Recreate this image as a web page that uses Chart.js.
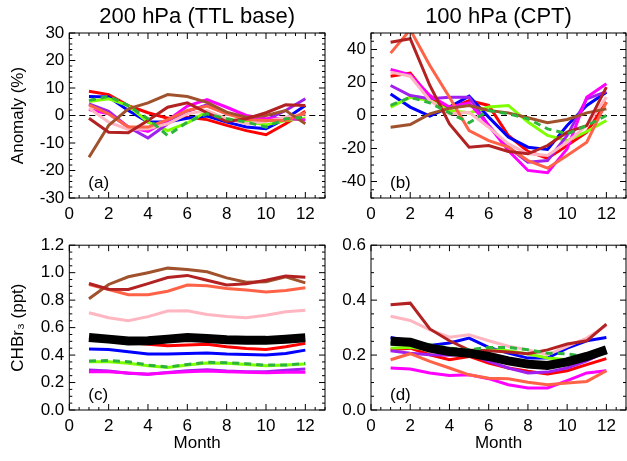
<!DOCTYPE html>
<html>
<head>
<meta charset="utf-8">
<script src="https://cdn.jsdelivr.net/npm/chart.js@4.4.0/dist/chart.umd.min.js"></script>
<style>
body { margin:0; background:#fff; }
#wrap { position:relative; width:627px; height:461px; }
canvas { position:absolute; }
</style>
</head>
<body>
<div id="wrap">
<canvas id="panelA" style="left:0;top:0" width="340" height="230"></canvas>
<canvas id="panelB" style="left:330px;top:0" width="297" height="230"></canvas>
<canvas id="panelC" style="left:0;top:230px" width="340" height="231"></canvas>
<canvas id="panelD" style="left:330px;top:230px" width="297" height="231"></canvas>
</div>
<script>
// --- donnees ---
const months = [1,2,3,4,5,6,7,8,9,10,11,12];
const xTicks = [0,2,4,6,8,10,12];
const yTicksA = [-30,-20,-10,0,10,20,30];
const yTicksB = [-40,-20,0,20,40];
const yTicksC = [0,0.2,0.4,0.6,0.8,1.0,1.2];
const yTicksD = [0,0.2,0.4,0.6];

// (a) anomalie 200 hPa (%)
const red200 = [8.8,7.6,3.6,1.0,-1.0,-0.6,-1.5,-3.6,-5.5,-7.0,-3.0,1.5];
const blue200 = [6.9,6.7,1.8,-2.4,-2.4,-1.0,-0.2,-2.4,-4.2,-4.8,-1.2,3.6];
const lime200 = [5.1,6.1,3.6,-2.4,-5.5,-2.7,1.5,-1.2,-2.4,-3.4,-1.8,-1.0];
const green200 = [5.5,7.0,3.6,-1.2,-7.3,-2.4,0.6,-1.2,-2.4,-4.2,-1.2,-0.6];
const magenta200 = [2.2,0.6,-4.2,-5.8,-1.8,3.4,5.8,3.0,0,-1.2,-1.0,-1.6];
const purple200 = [4.2,1.5,-4.2,-8.2,-3.0,1.5,3.9,0.6,-0.6,-1.6,1.8,6.1];
const pink200 = [2.7,-2.4,-5.1,-4.8,-3.0,0.6,1.8,-1.2,-3.0,-2.2,-0.6,0.6];
const tomato200 = [3.9,0.6,-4.2,-4.2,-1.5,1.8,3.4,0.6,-1.5,-1.8,-1.8,1.0];
const sienna200 = [-15.2,-3.6,2.4,4.6,7.6,6.9,4.8,1.2,-0.6,0,1.8,-3.0];
const brick200 = [-1.0,-6.1,-6.3,-1.8,3.0,4.6,1.0,-2.2,-1.2,1.0,3.9,3.6];

// (b) anomalie 100 hPa (%)
const red100 = [23.8,25.7,11.1,4.0,9.1,6.1,-12.1,-21.8,-25.9,-18.2,-10.1,8.1];
const blue100 = [13.1,5.1,-0.4,5.1,11.7,-1.0,-13.1,-19.2,-20.6,-6.1,6.1,14.1];
const lime100 = [5.1,11.1,9.1,3.0,1.6,5.1,6.1,-4.0,-12.1,-15.2,-9.7,-3.0];
const green100 = [6.1,11.1,7.7,1.6,-4.4,3.0,1.0,-2.0,-8.1,-11.1,-6.1,0];
const magenta100 = [27.9,24.6,12.1,5.1,7.7,-6.1,-21.2,-33.3,-34.7,-20.2,11.1,19.2];
const purple100 = [18.2,12.1,10.1,11.1,11.1,-6.1,-19.2,-28.3,-27.3,-12.1,10.1,14.5];
const pink100 = [26.3,23.8,9.1,1.0,2.0,-7.1,-17.2,-23.2,-24.2,-16.2,-6.1,11.1];
const tomato100 = [37.8,52,30.3,11.1,-9.1,-15.2,-19.2,-27.3,-31.9,-24.2,-16.2,8.1];
const sienna100 = [-7.1,-5.5,1.0,4.4,6.1,3.0,1.6,-1.4,-4.4,-2.4,1.6,4.0];
const brick100 = [44.4,46.5,18.2,-5.1,-19.2,-18.2,-21.8,-23.2,-18.2,-10.1,-6.1,17.2];

// (c) CHBr3 200 hPa (ppt)
const red200c = [0.528,0.51,0.492,0.478,0.468,0.473,0.478,0.46,0.448,0.44,0.46,0.485];
const blue200c = [0.444,0.441,0.424,0.407,0.407,0.412,0.415,0.407,0.405,0.4,0.412,0.436];
const lime200c = [0.352,0.352,0.34,0.322,0.31,0.327,0.342,0.34,0.332,0.322,0.327,0.335];
const green200c = [0.356,0.361,0.352,0.327,0.313,0.332,0.347,0.344,0.337,0.327,0.327,0.34];
const magenta200c = [0.279,0.279,0.269,0.26,0.271,0.279,0.284,0.279,0.274,0.271,0.274,0.274];
const purple200c = [0.291,0.284,0.267,0.26,0.274,0.286,0.293,0.284,0.279,0.279,0.289,0.298];
const pink200c = [0.708,0.672,0.65,0.68,0.72,0.722,0.696,0.68,0.672,0.69,0.715,0.727];
const tomato200c = [0.914,0.878,0.84,0.84,0.865,0.91,0.904,0.885,0.873,0.86,0.87,0.89];
const sienna200c = [0.81,0.914,0.97,1.0,1.033,1.023,1.006,0.962,0.93,0.933,0.97,0.926];
const brick200c = [0.921,0.88,0.878,0.92,0.965,0.98,0.945,0.91,0.92,0.945,0.975,0.967];
const mean200c = [0.528,0.516,0.502,0.504,0.516,0.528,0.52,0.511,0.507,0.507,0.516,0.526];

// (d) CHBr3 100 hPa (ppt)
const red100d = [0.219,0.225,0.201,0.183,0.195,0.171,0.153,0.141,0.131,0.143,0.165,0.187];
const blue100d = [0.264,0.252,0.235,0.244,0.262,0.228,0.207,0.189,0.189,0.225,0.252,0.264];
const lime100d = [0.225,0.228,0.219,0.207,0.211,0.219,0.216,0.204,0.189,0.183,0.195,0.211];
const green100d = [0.244,0.244,0.238,0.225,0.219,0.228,0.228,0.219,0.207,0.204,0.195,0.207];
const magenta100d = [0.153,0.149,0.135,0.126,0.128,0.114,0.092,0.08,0.08,0.107,0.135,0.143];
const purple100d = [0.216,0.207,0.201,0.199,0.204,0.177,0.153,0.135,0.138,0.153,0.179,0.213];
const pink100d = [0.341,0.326,0.292,0.265,0.274,0.252,0.232,0.219,0.201,0.232,0.262,0.308];
const tomato100d = [0.183,0.205,0.177,0.153,0.128,0.116,0.114,0.101,0.092,0.098,0.104,0.143];
const brick100d = [0.383,0.389,0.295,0.252,0.218,0.216,0.211,0.205,0.219,0.24,0.252,0.313];
const mean100d = [0.25,0.247,0.225,0.213,0.207,0.195,0.179,0.167,0.162,0.175,0.195,0.219];

// styles des courbes
const styles = {
  mean:    { color: '#000000', width: 9 },
  green:   { color: '#2DB43C', width: 3, dash: [7,5] },
  brick:   { color: '#B22222', width: 3 },
  sienna:  { color: '#A0522D', width: 3 },
  tomato:  { color: '#FF6347', width: 3 },
  magenta: { color: '#FF00FF', width: 3 },
  pink:    { color: '#FFB6C1', width: 3 },
  purple:  { color: '#A020F0', width: 3 },
  lime:    { color: '#7FFF00', width: 3 },
  blue:    { color: '#0000FF', width: 3 },
  red:     { color: '#FF0000', width: 3 }
};

Chart.defaults.font.family = "'Liberation Sans', Arial, sans-serif";
Chart.defaults.color = '#000';

// cadre, graduations interieures, ligne zero et etiquette du panneau
const boxTicks = {
  id: 'boxTicks',
  beforeDatasetsDraw(chart, args, o) {
    if (!o.zero) return;
    const { ctx, chartArea: a } = chart;
    const y0 = chart.scales.y.getPixelForValue(0);
    ctx.save();
    ctx.strokeStyle = '#000';
    ctx.lineWidth = 1;
    ctx.setLineDash([6,4]);
    ctx.beginPath(); ctx.moveTo(a.left, y0); ctx.lineTo(a.right, y0); ctx.stroke();
    ctx.restore();
  },
  afterDraw(chart, args, o) {
    const { ctx, chartArea: a, scales: { x, y } } = chart;
    ctx.save();
    ctx.strokeStyle = '#000';
    ctx.lineWidth = 1;
    ctx.strokeRect(a.left, a.top, a.right - a.left, a.bottom - a.top);
    const isMajor = (v, m) => Math.abs(v / m - Math.round(v / m)) < 1e-6;
    ctx.beginPath();
    for (let v = x.min; v <= x.max + 1e-9; v += o.xMinor) {
      const px = x.getPixelForValue(v);
      const len = isMajor(v, o.xMajor) ? 6 : 3;
      ctx.moveTo(px, a.bottom); ctx.lineTo(px, a.bottom - len);
      ctx.moveTo(px, a.top); ctx.lineTo(px, a.top + len);
    }
    for (let v = y.min; v <= y.max + 1e-9; v += o.yMinor) {
      const py = y.getPixelForValue(v);
      const len = isMajor(v, o.yMajor) ? 6 : 3;
      ctx.moveTo(a.left, py); ctx.lineTo(a.left + len, py);
      ctx.moveTo(a.right, py); ctx.lineTo(a.right - len, py);
    }
    ctx.stroke();
    ctx.font = "17px 'Liberation Sans', Arial, sans-serif";
    ctx.fillStyle = '#000';
    ctx.textBaseline = 'middle';
    ctx.fillText(o.label, a.left + 19, a.bottom - 15);
    ctx.restore();
  }
};

function makePanel(id, p) {
  const datasets = p.series.map(([key, values]) => ({
    data: months.map((m, i) => ({ x: m, y: values[i] })),
    borderColor: styles[key].color,
    borderWidth: styles[key].width,
    borderDash: styles[key].dash || [],
    pointRadius: 0,
    tension: 0,
    fill: false
  }));
  return new Chart(document.getElementById(id), {
    type: 'line',
    data: { datasets },
    plugins: [boxTicks],
    options: {
      responsive: false,
      animation: false,
      devicePixelRatio: 1,
      layout: { padding: { top: p.padTop, right: p.padRight, left: 0, bottom: 0 } },
      plugins: {
        legend: { display: false },
        tooltip: { enabled: false },
        title: {
          display: !!p.title,
          text: p.title,
          fullSize: false,
          font: { size: 22, weight: 'normal' },
          padding: { top: 4, bottom: 2.6 }
        },
        boxTicks: { xMajor: 2, xMinor: 0.5, yMajor: p.yMajor, yMinor: p.yMinor, zero: p.zero, label: p.label }
      },
      scales: {
        x: {
          type: 'linear', min: 0, max: 13,
          afterBuildTicks: s => { s.ticks = xTicks.map(v => ({ value: v })); },
          afterFit: s => { s.height = p.xHeight; },
          grid: { display: false, drawTicks: false }, border: { display: false },
          ticks: { font: { size: 17 }, padding: 6, maxRotation: 0 },
          title: { display: !!p.xTitle, text: p.xTitle, font: { size: 17 }, padding: { top: 0, bottom: 7 } }
        },
        y: {
          type: 'linear', min: p.yMin, max: p.yMax,
          afterBuildTicks: s => { s.ticks = p.yTicks.map(v => ({ value: v })); },
          afterFit: s => { s.width = p.yWidth; },
          grid: { display: false, drawTicks: false }, border: { display: false },
          ticks: { font: { size: 17 }, padding: 5, callback: p.fmt },
          title: { display: !!p.yTitle, text: p.yTitle, font: { size: 17 }, padding: { top: 8, bottom: 0 } }
        }
      }
    }
  });
}

makePanel('panelA', {
  title: '200 hPa (TTL base)', label: '(a)', zero: true,
  yMin: -30, yMax: 30, yTicks: yTicksA, yMajor: 10, yMinor: 2, fmt: v => String(v),
  yTitle: 'Anomaly (%)', yWidth: 69.3, xHeight: 32, padTop: 0, padRight: 15,
  series: [['green', green200], ['brick', brick200], ['sienna', sienna200], ['tomato', tomato200],
           ['pink', pink200], ['magenta', magenta200], ['purple', purple200], ['lime', lime200],
           ['blue', blue200], ['red', red200]]
});

makePanel('panelB', {
  title: '100 hPa (CPT)', label: '(b)', zero: true,
  yMin: -50, yMax: 50, yTicks: yTicksB, yMajor: 20, yMinor: 5, fmt: v => String(v),
  yWidth: 41, xHeight: 32, padTop: 0, padRight: 1,
  series: [['green', green100], ['brick', brick100], ['sienna', sienna100], ['tomato', tomato100],
           ['pink', pink100], ['magenta', magenta100], ['purple', purple100], ['lime', lime100],
           ['blue', blue100], ['red', red100]]
});

makePanel('panelC', {
  label: '(c)', zero: false,
  yMin: 0, yMax: 1.2, yTicks: yTicksC, yMajor: 0.2, yMinor: 0.05, fmt: v => v.toFixed(1),
  yTitle: 'CHBr₃ (ppt)', xTitle: 'Month', yWidth: 69.3, xHeight: 51, padTop: 15, padRight: 15,
  series: [['mean', mean200c], ['green', green200c], ['brick', brick200c], ['sienna', sienna200c],
           ['tomato', tomato200c], ['pink', pink200c], ['magenta', magenta200c], ['purple', purple200c],
           ['lime', lime200c], ['blue', blue200c], ['red', red200c]]
});

makePanel('panelD', {
  label: '(d)', zero: false,
  yMin: 0, yMax: 0.6, yTicks: yTicksD, yMajor: 0.2, yMinor: 0.05, fmt: v => v.toFixed(1),
  xTitle: 'Month', yWidth: 41, xHeight: 51, padTop: 15, padRight: 1,
  series: [['mean', mean100d], ['green', green100d], ['brick', brick100d], ['tomato', tomato100d],
           ['pink', pink100d], ['magenta', magenta100d], ['purple', purple100d], ['lime', lime100d],
           ['blue', blue100d], ['red', red100d]]
});
</script>
</body>
</html>
